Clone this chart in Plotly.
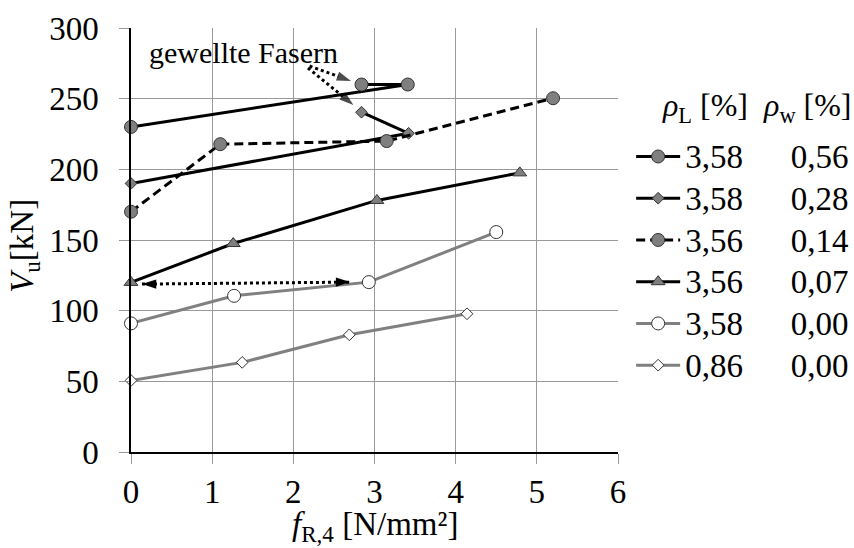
import plotly.graph_objects as go

# f_R,4 [N/mm²] and V_u [kN] for each test series
x_s1 = [0.0, 3.41, 2.84]
y_s1 = [230, 260, 260]
x_s2 = [0.0, 3.42, 2.84]
y_s2 = [190, 225.5, 240.4]
x_s3 = [0.0, 1.10, 3.15, 5.20]
y_s3 = [170, 217.8, 220, 250.3]
x_s4 = [0.0, 1.26, 3.03, 4.79]
y_s4 = [120, 147.5, 178, 197.5]
x_s5 = [0.0, 1.27, 2.93, 4.50]
y_s5 = [91, 110.5, 120.2, 155.6]
x_s6 = [0.0, 1.37, 2.69, 4.14]
y_s6 = [50.6, 63.4, 82.9, 97.8]

rho_L = ["3,58", "3,58", "3,56", "3,56", "3,58", "0,86"]
rho_w = ["0,56", "0,28", "0,14", "0,07", "0,00", "0,00"]

# dotted pointer lines: (start, tip) in data units
wavy_arrow_a = ([2.20, 2.71], [273.1, 262.5])
wavy_arrow_b = ([2.18, 2.74], [271.7, 245.6])
double_arrow = ([0.135, 2.70], [118.8, 120.2])

FONT = "Liberation Serif, Times New Roman, serif"
BLACK = "#000000"
GREY_LINE = "#808080"
GREY_FILL = "#7f7f7f"
EDGE = "#333333"
NB = "\u00a0"
THIN = "\u2009"


def label(i):
    return ('<span style="font-size:33px">' + rho_L[i] +
            NB * 5 + THIN + rho_w[i] + "</span>")


fig = go.Figure()

series = [
    (x_s1, y_s1, BLACK, "solid", "circle", GREY_FILL, 13),
    (x_s2, y_s2, BLACK, "solid", "diamond", GREY_FILL, 9),
    (x_s3, y_s3, BLACK, "9px,5px", "circle", GREY_FILL, 13),
    (x_s4, y_s4, BLACK, "solid", "triangle-up", GREY_FILL, 12),
    (x_s5, y_s5, GREY_LINE, "solid", "circle", "#ffffff", 13),
    (x_s6, y_s6, GREY_LINE, "solid", "diamond", "#ffffff", 9),
]

for i, (xs, ys, lc, dash, sym, fill, size) in enumerate(series):
    fig.add_trace(go.Scatter(
        x=xs, y=ys, mode="lines+markers", name=label(i),
        line=dict(color=lc, width=3, dash=dash),
        marker=dict(symbol=sym, size=size, color=fill,
                    line=dict(color=EDGE, width=1)),
        cliponaxis=False,
    ))

# dotted pointers with arrow heads
for xs, ys in (wavy_arrow_a, wavy_arrow_b):
    fig.add_trace(go.Scatter(
        x=xs, y=ys, mode="lines+markers", showlegend=False, hoverinfo="skip",
        line=dict(color=BLACK, width=3, dash="3px,3px"),
        marker=dict(symbol=["circle", "arrow"], size=[0, 15], color=BLACK,
                    angleref="previous", line=dict(width=0)),
        cliponaxis=False,
    ))

fig.add_trace(go.Scatter(
    x=double_arrow[0], y=double_arrow[1], mode="lines+markers",
    showlegend=False, hoverinfo="skip",
    line=dict(color=BLACK, width=3, dash="3px,3px"),
    marker=dict(symbol="arrow", size=15, color=BLACK, angle=[-90, 90],
                line=dict(width=0)),
    cliponaxis=False,
))

fig.add_annotation(
    x=0.197, y=283, xref="x", yref="y", text="gewellte Fasern",
    showarrow=False, xanchor="left", yanchor="middle",
    font=dict(family=FONT, size=30, color=BLACK),
)

# column header above the legend entries
fig.add_annotation(
    x=1.086, y=0.812, xref="paper", yref="paper", xanchor="left",
    yanchor="middle", showarrow=False,
    text="<i>ρ</i><sub>L</sub> [%]" + NB * 2 + "<i>ρ</i><sub>w</sub> [%]",
    font=dict(family=FONT, size=32, color=BLACK),
)

# axis titles
fig.add_annotation(
    x=0.5, y=-0.176, xref="paper", yref="paper", xanchor="center",
    yanchor="middle", showarrow=False,
    text="<i>f</i><sub>R,4</sub> [N/mm²]",
    font=dict(family=FONT, size=33, color=BLACK),
)
fig.add_annotation(
    x=-0.219, y=0.487, xref="paper", yref="paper", xanchor="center",
    yanchor="middle", showarrow=False, textangle=-90,
    text="<i>V</i><sub>u</sub>[kN]",
    font=dict(family=FONT, size=33, color=BLACK),
)

axis_common = dict(
    showgrid=True, gridcolor="#999999", gridwidth=1,
    showline=True, linecolor=BLACK, linewidth=1.5,
    ticks="outside", ticklen=10, tickcolor="#999999", tickwidth=1,
    zeroline=False, mirror=False,
    tickfont=dict(family=FONT, size=33, color=BLACK),
)

fig.update_xaxes(range=[0, 6], dtick=1, tick0=0, **axis_common)
fig.update_yaxes(range=[0, 300], dtick=50, tick0=0, ticklabelstandoff=14,
                 **axis_common)

fig.update_layout(
    width=854, height=548,
    margin=dict(l=131, r=236, t=28, b=96, autoexpand=False),
    paper_bgcolor="white", plot_bgcolor="white",
    font=dict(family=FONT, color=BLACK),
    showlegend=True,
    legend=dict(
        x=1.027, y=0.758, xanchor="left", yanchor="top",
        bgcolor="rgba(0,0,0,0)", borderwidth=0,
        itemwidth=44,
        font=dict(family=FONT, size=29.8, color=BLACK),
    ),
)

fig.write_html("out.html")
